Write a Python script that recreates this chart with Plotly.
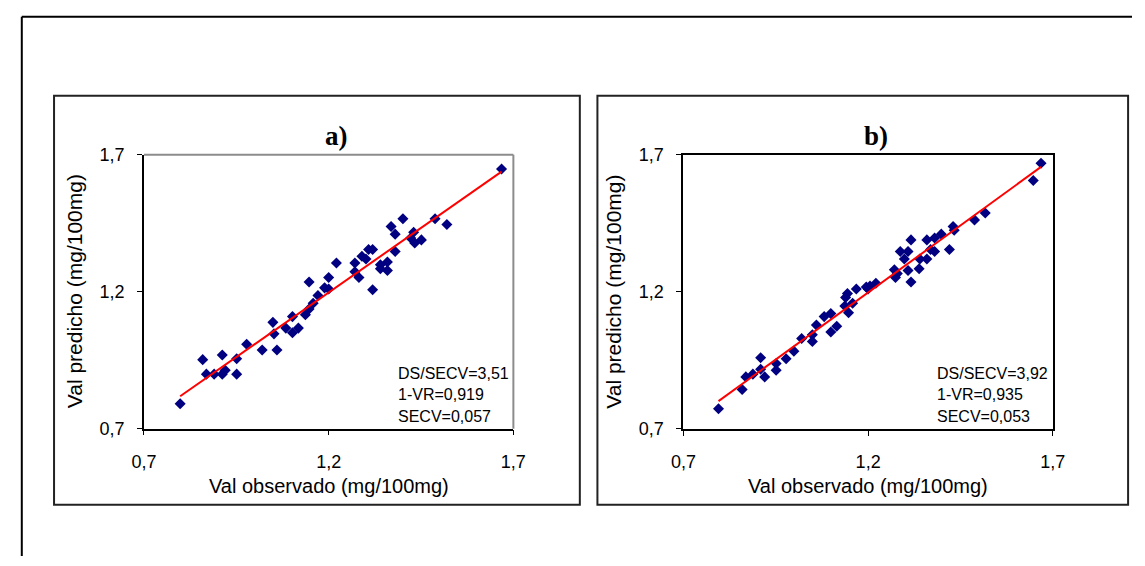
import numpy as np
import plotly.graph_objects as go

# ---- data: observed vs predicted values (mg/100mg) ----
obs_a = [0.798, 0.859, 0.869, 0.890, 0.912, 0.912, 0.920, 0.951, 0.951, 0.978,
         1.020, 1.049, 1.052, 1.060, 1.084, 1.102, 1.102, 1.118, 1.137, 1.147,
         1.158, 1.171, 1.147, 1.189, 1.200, 1.200, 1.221, 1.271, 1.271, 1.282,
         1.290, 1.301, 1.308, 1.319, 1.319, 1.340, 1.340, 1.359, 1.359, 1.369,
         1.380, 1.380, 1.401, 1.422, 1.430, 1.433, 1.451, 1.488, 1.520, 1.668]
pred_a = [0.791, 0.952, 0.899, 0.899, 0.969, 0.899, 0.913, 0.955, 0.899, 1.008,
          0.987, 1.088, 1.046, 0.987, 1.067, 1.109, 1.050, 1.067, 1.116, 1.137,
          1.158, 1.186, 1.235, 1.214, 1.210, 1.252, 1.305, 1.305, 1.273, 1.252,
          1.329, 1.319, 1.354, 1.354, 1.207, 1.298, 1.284, 1.308, 1.277, 1.438,
          1.410, 1.347, 1.466, 1.396, 1.417, 1.378, 1.389, 1.466, 1.445, 1.648]

obs_b = [0.795, 0.859, 0.869, 0.888, 0.909, 0.909, 0.920, 0.951, 0.951, 0.978,
         0.999, 1.020, 1.049, 1.049, 1.060, 1.081, 1.099, 1.099, 1.115, 1.139,
         1.144, 1.137, 1.147, 1.158, 1.168, 1.195, 1.205, 1.221, 1.200, 1.271,
         1.279, 1.274, 1.308, 1.316, 1.338, 1.287, 1.308, 1.298, 1.340, 1.359,
         1.369, 1.380, 1.420, 1.316, 1.359, 1.380, 1.398, 1.430, 1.433, 1.488,
         1.517, 1.647, 1.668]
pred_b = [0.773, 0.843, 0.889, 0.899, 0.959, 0.917, 0.889, 0.938, 0.913, 0.955,
          0.983, 1.029, 1.043, 1.018, 1.078, 1.109, 1.120, 1.053, 1.074, 1.179,
          1.193, 1.148, 1.123, 1.158, 1.210, 1.217, 1.221, 1.231, 1.210, 1.280,
          1.266, 1.252, 1.277, 1.235, 1.284, 1.347, 1.347, 1.319, 1.319, 1.319,
          1.354, 1.347, 1.354, 1.389, 1.389, 1.396, 1.410, 1.438, 1.424, 1.462,
          1.487, 1.606, 1.669]

tick_vals = [0.7, 1.2, 1.7]
tick_text = ["0,7", "1,2", "1,7"]
panel_titles = ["a)", "b)"]
stats_a = ["DS/SECV=3,51", "1-VR=0,919", "SECV=0,057"]
stats_b = ["DS/SECV=3,92", "1-VR=0,935", "SECV=0,053"]
x_title = "Val observado (mg/100mg)"
y_title = "Val predicho (mg/100mg)"

W, H = 1145, 566
SANS = "Liberation Sans, Arial, sans-serif"
SERIF = "Liberation Serif, Times New Roman, serif"
NAVY = "#000080"


def px(x):
    """pixel x -> paper fraction"""
    return x / W


def py(y):
    """pixel y (from top) -> paper fraction"""
    return 1 - y / H


# plot-area boxes in pixels (left, top, right, bottom)
areas = [(134, 150, 512, 434), (686, 150, 1064, 434)]

fig = go.Figure()
panels = [(obs_a, pred_a, "x", "y"), (obs_b, pred_b, "x2", "y2")]
for obs, pred, xa, ya in panels:
    fig.add_trace(go.Scatter(
        x=obs, y=pred, mode="markers", xaxis=xa, yaxis=ya,
        marker=dict(symbol="diamond", size=8.5, color=NAVY, line=dict(width=0)),
        showlegend=False, hoverinfo="x+y"))
    slope, icpt = np.polyfit(obs, pred, 1)
    xs = np.array([min(obs), max(obs)])
    fig.add_trace(go.Scatter(
        x=xs, y=slope * xs + icpt, mode="lines", xaxis=xa, yaxis=ya,
        line=dict(color="#ff0000", width=2), showlegend=False, hoverinfo="skip"))

axis_common = dict(
    range=[0.7, 1.7], tickvals=tick_vals, ticktext=tick_text,
    showgrid=False, zeroline=False, ticks="outside", ticklen=5,
    tickcolor="black", tickwidth=1, showline=True, linecolor="black",
    linewidth=1.5, tickfont=dict(family=SANS, size=18, color="black"),
)

layout_axes = {}
for i, (l, t, r, b) in enumerate(areas):
    sx = "" if i == 0 else str(i + 1)
    mirror = i == 1
    layout_axes["xaxis" + sx] = dict(
        axis_common, domain=[px(l), px(r)], anchor="y" + sx,
        ticklabelstandoff=11, mirror=mirror,
        linewidth=2 if mirror else 1.5)
    layout_axes["yaxis" + sx] = dict(
        axis_common, domain=[py(b), py(t)], anchor="x" + sx,
        ticklabelstandoff=9, mirror=mirror,
        linewidth=2 if mirror else 1.5)

shapes = [
    # outer frame (top and left edges)
    dict(type="line", xref="paper", yref="paper", x0=px(9), x1=1.0, y0=py(7), y1=py(7),
         line=dict(color="black", width=2)),
    dict(type="line", xref="paper", yref="paper", x0=px(9), x1=px(9), y0=py(7), y1=0,
         line=dict(color="black", width=2)),
    # panel boxes
    dict(type="rect", xref="paper", yref="paper", x0=px(42), x1=px(580), y0=py(513), y1=py(89),
         line=dict(color="#222222", width=2)),
    dict(type="rect", xref="paper", yref="paper", x0=px(598), x1=px(1141), y0=py(513), y1=py(89),
         line=dict(color="#222222", width=2)),
    # grey top/right border of the first plot area
    dict(type="line", xref="paper", yref="paper", x0=px(134), x1=px(512), y0=py(150), y1=py(150),
         line=dict(color="#8c8c8c", width=2)),
    dict(type="line", xref="paper", yref="paper", x0=px(512), x1=px(512), y0=py(150), y1=py(434),
         line=dict(color="#8c8c8c", width=2)),
]

annotations = []
for i, (l, t, r, b) in enumerate(areas):
    cx = (l + r) / 2
    annotations.append(dict(
        text="<b>" + panel_titles[i] + "</b>", xref="paper", yref="paper",
        x=px(cx + 8), y=py(131), showarrow=False, xanchor="center", yanchor="middle",
        font=dict(family=SERIF, size=27, color="black")))
    annotations.append(dict(
        text=x_title, xref="paper", yref="paper", x=px(cx), y=py(493),
        showarrow=False, xanchor="center", yanchor="middle",
        font=dict(family=SANS, size=20, color="black")))
    annotations.append(dict(
        text=y_title, xref="paper", yref="paper", x=px(l - 71), y=py((t + b) / 2),
        showarrow=False, xanchor="center", yanchor="middle", textangle=-90,
        font=dict(family=SANS, size=21, color="black")))
    stats = stats_a if i == 0 else stats_b
    sx0 = 392 if i == 0 else 943
    for j, s in enumerate(stats):
        annotations.append(dict(
            text=s, xref="paper", yref="paper", x=px(sx0), y=py(377 + 22 * j),
            showarrow=False, xanchor="left", yanchor="middle",
            font=dict(family=SANS, size=16, color="black")))

fig.update_layout(
    width=W, height=H, margin=dict(l=0, r=0, t=0, b=0),
    paper_bgcolor="white", plot_bgcolor="white",
    shapes=shapes, annotations=annotations, **layout_axes)

fig.write_html("out.html")
